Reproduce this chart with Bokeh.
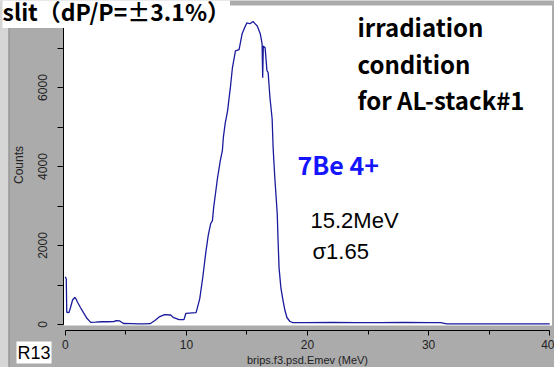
from bokeh.plotting import figure
from bokeh.models import Range1d, FixedTicker, Label, BoxAnnotation, ColumnDataSource
from bokeh.embed import file_html
from bokeh.resources import INLINE

# ---- data ----
energy_mev = [0.0, 0.08, 0.12, 0.3, 0.43, 0.6, 0.8, 0.9, 1.0, 1.25, 1.5, 1.8, 2.1, 2.5,
              3.0, 3.5, 4.0, 4.2, 4.5, 4.8, 5.5, 6.0, 6.5, 7.0, 7.4, 7.8, 8.2, 8.7, 8.9,
              9.4, 9.8, 9.95, 10.8, 11.1, 11.35, 11.6, 11.8, 12.0, 12.15, 12.25, 12.4,
              12.56, 12.8, 12.97, 13.05, 13.2, 13.4, 13.5, 13.65, 13.8, 14.05, 14.35,
              14.6, 14.8, 15.0, 15.25, 15.5, 15.85, 16.1, 16.25, 16.3, 16.35, 16.5,
              16.65, 16.75, 16.9, 17.08, 17.16, 17.3, 17.5, 17.57, 17.65, 17.8, 17.98,
              18.14, 18.3, 18.55, 18.8, 20.0, 22.0, 24.0, 26.0, 28.0, 30.0, 31.0, 31.5,
              33.0, 35.0, 37.0, 40.0]
counts = [1210, 1150, 310, 300, 430, 620, 690, 640, 570, 430, 300, 150, 55, 60,
          70, 70, 75, 100, 90, 25, 20, 15, 15, 20, 100, 200, 250, 240, 180,
          125, 125, 280, 300, 650, 1190, 1820, 2250, 2550, 2630, 2960, 3310,
          3690, 4150, 4400, 4730, 5085, 5410, 5670, 6050, 6500, 6930, 6960,
          7360, 7510, 7640, 7615, 7670, 7560, 7360, 7110, 6250, 7050, 7010,
          6430, 6380, 5740, 5210, 4480, 3720, 2810, 2125, 1440, 936, 607,
          354, 177, 76, 50, 50, 55, 50, 50, 55, 50, 50, 15,
          15, 15, 15, 15]

y_major_ticks = [0, 2000, 4000, 6000]
y_minor_ticks = [1000, 3000, 5000, 7000]
x_major_ticks = [0, 10, 20, 30, 40]
x_minor_ticks = [5, 15, 25, 35]

title_text = "slit（dP/P=±3.1%）"
note_lines = ["irradiation", "condition", "for AL-stack#1"]
ion_text = "7Be 4+"
energy_text = "15.2MeV"
sigma_text = "σ1.65"
run_text = "R13"
x_label = "brips.f3.psd.Emev (MeV)"
y_label = "Counts"

W, H = 554, 367
GRAY = "#ababab"
LINE = "#1a1a9c"
JP = "Noto Sans CJK JP"
SANS = "Liberation Sans"

# pixel geometry of the reference: x=0 MeV at 64.8px, 12.11 px per MeV;
# 0 counts at 324px, 25.32 counts per px
PX_PER_MEV = 12.11
X0_PX = 64.8
CNT_PER_PX = 25.32
Y0_PX = 324.0

def xd(px):
    return (px - X0_PX) / PX_PER_MEV

def yd(py):
    return (Y0_PX - py) * CNT_PER_PX

p = figure(width=W, height=H, output_backend="svg", toolbar_location=None,
           x_range=Range1d(xd(0), xd(W)), y_range=Range1d(yd(H), yd(0)),
           min_border=0, min_border_left=0, min_border_right=0,
           min_border_top=0, min_border_bottom=0)
p.background_fill_color = GRAY
p.border_fill_color = GRAY
p.outline_line_color = None
p.grid.visible = False

# white plotting area
p.add_layout(BoxAnnotation(left=xd(63.5), right=xd(551.5), top=yd(5), bottom=yd(325),
                           fill_color="white", fill_alpha=1.0,
                           line_color=None, level="underlay"))
# light strip at the far left edge
p.add_layout(BoxAnnotation(left=0, right=8, left_units="screen", right_units="screen",
                           fill_color="#d6d6d6", fill_alpha=1.0,
                           line_color=None, level="underlay"))
p.add_layout(BoxAnnotation(left=8, right=9, left_units="screen", right_units="screen",
                           fill_color="#8e8e8e", fill_alpha=1.0,
                           line_color=None, level="underlay"))

src = ColumnDataSource(dict(e=energy_mev, c=counts))
p.line("e", "c", source=src, line_color=LINE, line_width=1.3)

# axes (drawn at fixed locations inside the canvas)
xa = p.xaxis[0]
xa.fixed_location = yd(330)
xa.bounds = (0, 40)
xa.ticker = FixedTicker(ticks=x_major_ticks, minor_ticks=x_minor_ticks)
xa.axis_line_color = "black"
xa.major_tick_line_color = "black"
xa.minor_tick_line_color = "black"
xa.major_tick_out = 5
xa.major_tick_in = 0
xa.minor_tick_out = 4
xa.minor_tick_in = 0
xa.major_label_text_font = SANS
xa.major_label_text_font_size = "12px"
xa.major_label_text_color = "#222222"
xa.major_label_standoff = 4
xa.axis_label = x_label
xa.axis_label_text_font = SANS
xa.axis_label_text_font_size = "11px"
xa.axis_label_text_font_style = "normal"
xa.axis_label_text_color = "#222222"
xa.axis_label_standoff = 2

ya = p.yaxis[0]
ya.fixed_location = xd(62.5)
ya.bounds = (0, yd(5))
ya.ticker = FixedTicker(ticks=y_major_ticks, minor_ticks=y_minor_ticks)
ya.axis_line_color = "black"
ya.major_tick_line_color = "black"
ya.minor_tick_line_color = "black"
ya.major_tick_out = 6
ya.major_tick_in = 0
ya.minor_tick_out = 6
ya.minor_tick_in = 0
ya.major_label_orientation = "vertical"
ya.major_label_text_font = SANS
ya.major_label_text_font_size = "12px"
ya.major_label_text_color = "#222222"
ya.major_label_standoff = 10
ya.axis_label = y_label
ya.axis_label_text_font = SANS
ya.axis_label_text_font_size = "12px"
ya.axis_label_text_font_style = "normal"
ya.axis_label_text_color = "#222222"
ya.axis_label_standoff = 10

def lab(x, mid_y, text, size, bold=False, color="black", font=JP, bg=None, pad=0):
    kw = dict(x=x, y=H - mid_y, x_units="screen", y_units="screen", text=text,
              text_font=font, text_font_size=size,
              text_font_style="bold" if bold else "normal",
              text_color=color, text_baseline="middle", text_align="left")
    if bg is not None:
        kw["background_fill_color"] = bg
        kw["background_fill_alpha"] = 1.0
        kw["padding"] = pad
    p.add_layout(Label(**kw))

lab(2, 10.5, title_text, "23px", bold=True, bg="white", pad=0)
for i, t in enumerate(note_lines):
    lab(357, 26 + 36.5 * i, t, "24px", bold=True)
lab(297, 163, ion_text, "25px", bold=True, color="#1414ff")
lab(310, 220, energy_text, "22px", font=SANS)
lab(312, 251, sigma_text, "22px", font=SANS)
lab(16, 352, run_text, "18px", font=SANS, bg="white", pad=1)

open("out.html", "w").write(file_html(p, INLINE))
